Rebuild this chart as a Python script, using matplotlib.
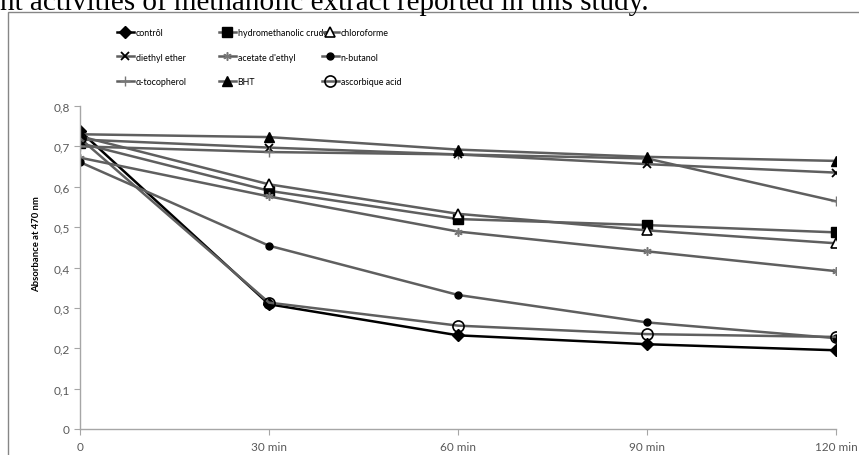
import matplotlib
matplotlib.use("Agg")
import matplotlib.pyplot as plt
from matplotlib.patches import Rectangle
from matplotlib.ticker import FuncFormatter

categories = ["0", "30 min", "60 min", "90 min", "120 min"]
control = [0.738, 0.309, 0.232, 0.210, 0.195]
hydromethanolic = [0.708, 0.590, 0.520, 0.505, 0.487]
chloroforme = [0.725, 0.606, 0.533, 0.492, 0.460]
diethyl_ether = [0.717, 0.697, 0.680, 0.656, 0.635]
acetate_ethyl = [0.672, 0.576, 0.489, 0.440, 0.391]
n_butanol = [0.661, 0.454, 0.332, 0.264, 0.225]
tocopherol = [0.700, 0.686, 0.680, 0.670, 0.564]
bht = [0.730, 0.723, 0.692, 0.674, 0.664]
ascorbic = [0.720, 0.313, 0.256, 0.235, 0.228]

labels = ["contrôl", "hydromethanolic crude", "chloroforme",
          "diethyl ether", "acetate d'ethyl", "n-butanol",
          "α-tocopherol", "BHT", "ascorbique acid"]

FONT = ["Lato", "DejaVu Sans"]
plt.rcParams['font.family'] = FONT

W, H = 859, 456
fig = plt.figure(figsize=(W/100, H/100), dpi=100)

# outer chart border
fig.patches.append(Rectangle((8/W, -0.1), 1.0, (H-13)/H + 0.1, transform=fig.transFigure,
                             fill=False, edgecolor="#868686", linewidth=1.0))
# cropped caption line
fig.text(0.0, 1 - 10/H, "nt activities of methanolic extract reported in this study.",
         fontsize=21, family=["Liberation Serif", "DejaVu Serif"], va="baseline", ha="left")

ax = fig.add_axes([80/W, (H-430)/H, (836-80)/W, (430-107)/H])
x = list(range(len(categories)))
gray = "#5f5f5f"
styles = [
    (control, dict(color="black", marker="D", ms=6, mfc="black", mec="black")),
    (hydromethanolic, dict(color=gray, marker="s", ms=6.5, mfc="black", mec="black")),
    (chloroforme, dict(color=gray, marker="^", ms=7.5, mfc="white", mec="black", mew=1.2)),
    (diethyl_ether, dict(color=gray, marker="x", ms=6, mfc="black", mec="black", mew=1.3)),
    (acetate_ethyl, dict(color=gray, marker=(6, 2, 0), ms=6, mec="#777777", mew=1.1)),
    (n_butanol, dict(color=gray, marker="o", ms=5, mfc="black", mec="black")),
    (tocopherol, dict(color=gray, marker="+", ms=7, mec="#777777", mew=1.0)),
    (bht, dict(color=gray, marker="^", ms=7.5, mfc="black", mec="black")),
    (ascorbic, dict(color=gray, marker="o", ms=8, mfc="none", mec="black", mew=1.2)),
]
handles = []
for (vals, st), lab in zip(styles, labels):
    h, = ax.plot(x, vals, lw=1.8, label=lab, **st)
    handles.append(h)

ax.set_xlim(0, 4)
ax.set_ylim(0, 0.8)
ax.set_xticks(x)
ax.set_xticklabels(categories)
ax.set_yticks([i/10 for i in range(9)])
ax.yaxis.set_major_formatter(FuncFormatter(lambda v, p: "0" if abs(v) < 1e-9 else f"{v:.1f}".replace(".", ",")))
for s in ["top", "right"]:
    ax.spines[s].set_visible(False)
for s in ["left", "bottom"]:
    ax.spines[s].set_color("#a6a6a6")
    ax.spines[s].set_linewidth(1.0)
ax.tick_params(axis="both", colors="#a6a6a6", labelcolor="#595959", labelsize=8.5, length=4, direction="out")
ax.tick_params(axis="x", pad=5)
for t in ax.get_xticklabels():
    t.set_clip_on(False)

fig.text(37/W, 1 - 244/H, "Absorbance at 470 nm", rotation=90, fontsize=6.8, fontweight="bold",
         ha="center", va="center")

# legend: three columns placed as in the reference
col_x = [117, 219, 322]
for c in range(3):
    hs = [handles[r*3 + c] for r in range(3)]
    leg = fig.legend(hs, [h.get_label() for h in hs], loc="upper left",
                     bbox_to_anchor=(col_x[c]/W, 1 - 29/H), bbox_transform=fig.transFigure,
                     frameon=False, fontsize=6.4, handlelength=1.9, handletextpad=0.2,
                     labelspacing=1.75, borderpad=0, borderaxespad=0)

fig.savefig("out.png", dpi=100)
